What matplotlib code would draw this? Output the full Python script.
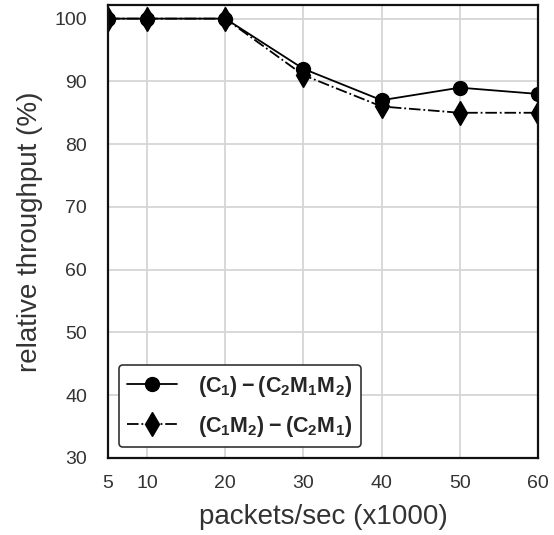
import matplotlib
matplotlib.use("Agg")
import matplotlib.pyplot as plt
import seaborn as sns

rates = [5, 10, 20, 30, 40, 50, 60]
thr_c1_c2m1m2 = [100, 100, 100, 92, 87, 89, 88]
thr_c1m2_c2m1 = [100, 100, 100, 91, 86, 85, 85]
label_a = r"$\mathbf{(C_1)-(C_2M_1M_2)}$"
label_b = r"$\mathbf{(C_1M_2)-(C_2M_1)}$"
xticks = [5, 10, 20, 30, 40, 50, 60]
yticks = [30, 40, 50, 60, 70, 80, 90, 100]

sns.set_theme(style="whitegrid")
plt.rcParams["font.family"] = ["Liberation Sans", "DejaVu Sans"]
plt.rcParams["mathtext.fontset"] = "custom"
plt.rcParams["mathtext.bf"] = "Liberation Sans:bold"
plt.rcParams["mathtext.rm"] = "Liberation Sans"

fig = plt.figure(figsize=(5.54, 5.35), dpi=100)
ax = fig.add_axes([0.195, 0.144, 0.776, 0.847])

ax.plot(rates, thr_c1_c2m1m2, color="black", linestyle="-", marker="o",
        markersize=10, linewidth=1.3, label=label_a)
ax.plot(rates, thr_c1m2_c2m1, color="black", linestyle="-.", marker="d",
        markersize=12, linewidth=1.3, label=label_b)

ax.set_xlim(5, 60)
ax.set_ylim(30, 102.2)
ax.set_xticks(xticks)
ax.set_yticks(yticks)
ax.tick_params(axis="both", labelsize=14, colors="#333333")
ax.tick_params(axis="y", pad=9)
ax.tick_params(axis="x", pad=6)
ax.set_xlabel("packets/sec (x1000)", fontsize=20, color="#333333", labelpad=9)
ax.set_ylabel("relative throughput (%)", fontsize=20, color="#333333", labelpad=8)
ax.grid(True, color="#d6d6d6", linewidth=1.3)
for s in ax.spines.values():
    s.set_color("#111111")
    s.set_linewidth(1.6)

leg = ax.legend(loc="lower left", fontsize=15.5, frameon=True, fancybox=True,
                borderpad=0.4, handlelength=2.3, handletextpad=1.0,
                labelspacing=0.7, borderaxespad=0.5)
leg.get_frame().set_edgecolor("#333333")
leg.get_frame().set_linewidth(1.2)
leg.get_frame().set_alpha(1.0)

fig.savefig("out.png", dpi=100)
